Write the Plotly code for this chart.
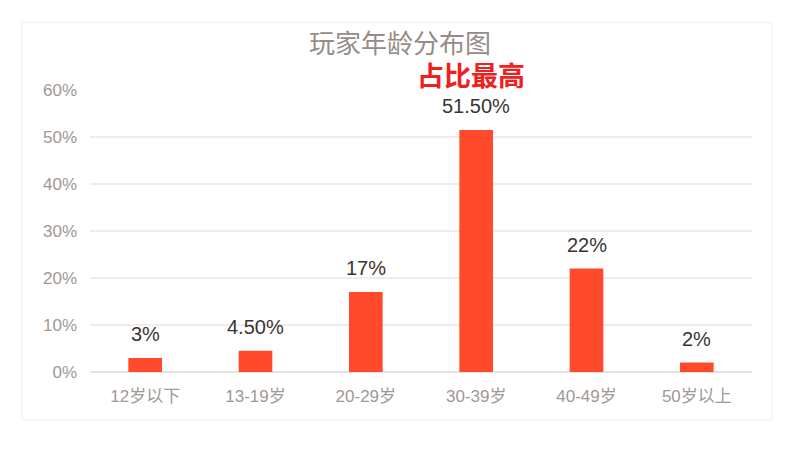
import plotly.graph_objects as go

# 玩家年龄分布数据
age_groups = ['12岁以下', '13-19岁', '20-29岁', '30-39岁', '40-49岁', '50岁以上']
share = [3, 4.5, 17, 51.5, 22, 2]
share_labels = ['3%', '4.50%', '17%', '51.50%', '22%', '2%']
y_ticks = [0, 10, 20, 30, 40, 50, 60]

W, H = 784, 438  # page adds an 8px body margin

fig = go.Figure()

fig.add_trace(go.Bar(
    x=age_groups, y=share,
    marker=dict(color='#ff4a2c', line=dict(width=0)),
    width=0.305,
    hoverinfo='x+y',
))

# 数值标签
for g, v, t in zip(age_groups, share, share_labels):
    fig.add_annotation(x=g, y=v, text=t, showarrow=False,
                       yanchor='middle', yshift=24,
                       font=dict(size=20, color='#3a3532', family='Liberation Sans, Arial'))

# 高亮说明
fig.add_annotation(x='30-39岁', y=1, yref='paper', text='<b>占比最高</b>',
                   showarrow=False, yanchor='middle', yshift=16, xshift=-5,
                   font=dict(size=27, color='#f0201c', family='Noto Sans CJK SC'))

# 外框
fig.add_shape(type='rect', xref='paper', yref='paper',
              x0=-0.103, x1=1.03, y0=-0.17, y1=1.239,
              line=dict(color='#f1eeec', width=1), fillcolor='rgba(0,0,0,0)', layer='below')

fig.update_layout(
    width=W, height=H,
    margin=dict(l=82, r=40, t=81.5, b=74, autoexpand=False),
    paper_bgcolor='white', plot_bgcolor='white',
    title=dict(text='玩家年龄分布图', x=0.5, xanchor='center', y=1 - 36 / H, yanchor='middle',
               font=dict(size=26, color='#958c87', family='Noto Sans CJK SC')),
    showlegend=False,
)

fig.update_xaxes(
    showgrid=False, showline=False, zeroline=False, ticks='',
    ticklabelstandoff=12,
    tickfont=dict(size=17, color='#a09893', family='Liberation Sans, Noto Sans CJK SC'),
)
fig.update_yaxes(
    range=[0, 60], tickvals=y_ticks, ticktext=[f'{v}%' for v in y_ticks],
    showgrid=True, gridcolor='#efecea', gridwidth=1.5,
    zeroline=True, zerolinecolor='#e6e2e0', zerolinewidth=1.5,
    showline=False, ticks='', ticklabelstandoff=12,
    tickfont=dict(size=17, color='#a09893', family='Liberation Sans, Arial'),
)

fig.write_html('out.html')
